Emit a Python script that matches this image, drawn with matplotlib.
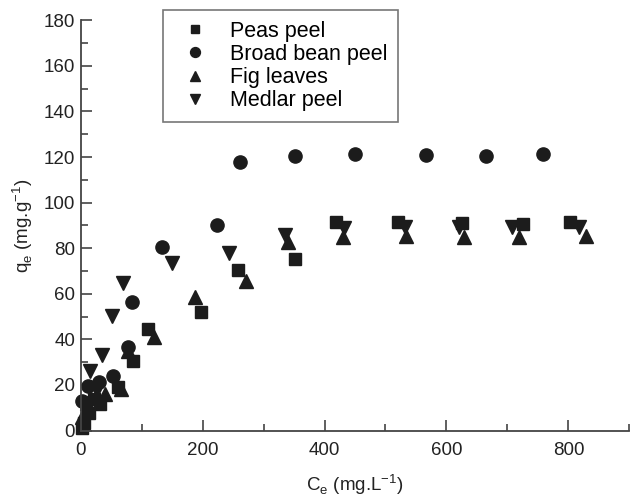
import matplotlib as mpl
mpl.use('Agg')
import matplotlib.pyplot as plt
from matplotlib.ticker import MultipleLocator

plt.rcParams['font.family'] = ['Liberation Sans', 'DejaVu Sans']
plt.rcParams['mathtext.fontset'] = 'custom'
plt.rcParams['mathtext.rm'] = 'Liberation Sans'

# Peas peel (squares)
peas_x = [2, 5, 14, 22, 32, 62, 86, 110, 198, 258, 352, 419, 520, 626, 725, 803]
peas_y = [1, 3.5, 7.5, 14, 11.5, 19, 30.6, 44.6, 52.2, 70.5, 75.2, 91.6, 91.7, 91, 90.7, 91.7]

# Broad bean peel (circles)
bean_x = [3, 12, 30, 53, 77, 85, 134, 224, 261, 351, 450, 567, 665, 758]
bean_y = [13, 19.5, 21.5, 24, 36.6, 56.6, 80.4, 90.2, 117.9, 120.6, 121.4, 121, 120.5, 121.4]

# Fig leaves (up triangles)
fig_x = [3, 10, 25, 40, 66, 77, 120, 187, 271, 340, 431, 534, 629, 719, 829]
fig_y = [6, 12, 15, 16, 18.2, 35, 41.2, 58.5, 65.8, 82.9, 85, 85.5, 85, 85, 85.4]

# Medlar peel (down triangles)
medlar_x = [5, 15, 27, 35, 51, 70, 150, 243, 336, 432, 532, 620, 708, 817]
medlar_y = [10, 26.3, 17.8, 33.2, 50.3, 64.9, 73.7, 77.8, 85.8, 89, 89.2, 89.5, 89.5, 89.5]

c = '#1c1c1c'
fig = plt.figure(figsize=(6.3, 4.96), dpi=100)
ax = fig.add_axes([0.128, 0.132, 0.871, 0.827])

ax.plot(peas_x, peas_y, 's', color=c, ms=8.5, label='Peas peel', clip_on=False)
ax.plot(bean_x, bean_y, 'o', color=c, ms=9.5, label='Broad bean peel', clip_on=False)
ax.plot(fig_x, fig_y, '^', color=c, ms=10, label='Fig leaves', clip_on=False)
ax.plot(medlar_x, medlar_y, 'v', color=c, ms=10, label='Medlar peel', clip_on=False)

ax.set_xlim(0, 900)
ax.set_ylim(0, 180)
ax.xaxis.set_major_locator(MultipleLocator(200))
ax.xaxis.set_minor_locator(MultipleLocator(100))
ax.yaxis.set_major_locator(MultipleLocator(20))
ax.yaxis.set_minor_locator(MultipleLocator(10))
ax.tick_params(which='both', direction='in', colors='#444444', labelcolor='#222222',
               labelsize=13.5, width=1.2)
ax.tick_params(which='major', length=8)
ax.tick_params(which='minor', length=5)
ax.tick_params(axis='x', pad=8)
ax.tick_params(axis='y', pad=4)
ax.spines['top'].set_visible(False)
ax.spines['right'].set_visible(False)
for s in ['left', 'bottom']:
    ax.spines[s].set_color('#444444')
    ax.spines[s].set_linewidth(1.3)

ax.set_xlabel(r'C$_\mathregular{e}$ (mg.L$^\mathregular{-1}$)', fontsize=13.5, color='#222222', labelpad=10)
ax.set_ylabel(r'q$_\mathregular{e}$ (mg.g$^\mathregular{-1}$)', fontsize=13.5, color='#222222', labelpad=6)

leg = ax.legend(loc='upper left', bbox_to_anchor=(0.150, 1.025), borderaxespad=0,
                fontsize=15.5, frameon=True, fancybox=False, edgecolor='#555555',
                borderpad=0.5, handletextpad=0.6, handlelength=2.0,
                labelspacing=0.1, markerscale=0.75)
leg.get_frame().set_linewidth(1.2)

plt.savefig('out.png', dpi=100)
